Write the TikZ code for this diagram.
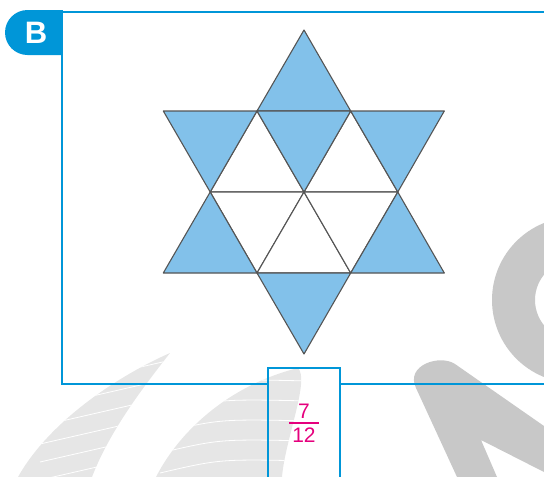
\documentclass[tikz,border=0pt]{standalone}
\usepackage{fontspec}
\setmainfont{Liberation Sans}
\definecolor{frameblue}{HTML}{0096D8}
\definecolor{starfill}{HTML}{82C1EA}
\definecolor{starline}{HTML}{555555}
\definecolor{wmdark}{HTML}{C8C8C8}
\definecolor{wmlight}{HTML}{E6E6E6}
\definecolor{fracmag}{HTML}{E5007D}
\tikzset{
  frameline/.style={draw=frameblue, line width=2.8pt},
  filltri/.style={fill=starfill, draw=starline, line width=1.1pt, line join=round},
  whitetri/.style={fill=white, draw=starline, line width=1.1pt, line join=round},
  wmark/.style={fill=wmdark, draw=none},
  leaf/.style={fill=wmlight, draw=none},
  stripe/.style={draw=white, line width=0.8pt},
  fracdigit/.style={text=fracmag, font=\fontsize{21}{24}\selectfont, inner sep=0pt}
}
\begin{document}
\begin{tikzpicture}[x=1pt,y=-1pt]
\useasboundingbox (0,0) rectangle (544,477);
% watermark shapes
\begin{scope}
\clip (0,0) rectangle (544,477);
\path[leaf] (170,353) .. controls (120,375) and (50,420) .. (18,477) -- (92,477) .. controls (110,430) and (145,385) .. (170,353) -- cycle;
\begin{scope}
\clip (170,353) .. controls (120,375) and (50,420) .. (18,477) -- (92,477) .. controls (110,430) and (145,385) .. (170,353) -- cycle;
\foreach \yy in {360,378,396,414,432,450,468}
  \draw[stripe] (40,\yy+30) -- (180,\yy-2);
\end{scope}
\path[leaf] (298,368) .. controls (230,385) and (180,430) .. (156,477) -- (282,477) .. controls (285,440) and (310,380) .. (298,368) -- cycle;
\begin{scope}
\clip (298,368) .. controls (230,385) and (180,430) .. (156,477) -- (282,477) .. controls (285,440) and (310,380) .. (298,368) -- cycle;
\foreach \yy in {385,405,425,445,465}
  \draw[stripe] (160,\yy+8) .. controls (220,\yy-6) .. (310,\yy-4);
\end{scope}
\path[wmark, even odd rule] (575,300) circle[radius=83] (575,300) circle[radius=40];
\path[wmark] (416,388) -- (457,477) -- (497,477) -- (481,440) -- (544,472) -- (544,426) -- (455,364)
  .. controls (440,354) and (405,365) .. (416,388) -- cycle;
\end{scope}
% frame
\draw[frameline] (62,12) -- (546,12);
\draw[frameline] (62,10) -- (62,384) -- (268,384);
\draw[frameline] (340,384) -- (546,384);
\draw[frameline] (268,479) -- (268,368) -- (340,368) -- (340,479);
% tab B
\path[fill=frameblue] (62,10) -- (27.5,10) arc[start angle=270, end angle=90, radius=22.5] -- (62,55) -- cycle;
\node[text=white, font=\bfseries\fontsize{31}{34}\selectfont, inner sep=0pt] (tabB) at (36,33) {B};
% star lattice
\coordinate (T) at (304,30);
\coordinate (a1) at (163.3,111); \coordinate (a2) at (257,111); \coordinate (a3) at (350.7,111); \coordinate (a4) at (444.3,111);
\coordinate (b1) at (210.2,192); \coordinate (b2) at (304,192); \coordinate (b3) at (397.8,192);
\coordinate (c1) at (163.3,273); \coordinate (c2) at (257,273); \coordinate (c3) at (350.7,273); \coordinate (c4) at (444.3,273);
\coordinate (Bt) at (304,354);
\path[whitetri] (a2) -- (b1) -- (b2) -- cycle;
\path[whitetri] (a3) -- (b2) -- (b3) -- cycle;
\path[whitetri] (b1) -- (b2) -- (c2) -- cycle;
\path[whitetri] (b2) -- (c2) -- (c3) -- cycle;
\path[whitetri] (b2) -- (b3) -- (c3) -- cycle;
\path[filltri] (T) -- (a2) -- (a3) -- cycle;
\path[filltri] (a2) -- (a3) -- (b2) -- cycle;
\path[filltri] (a1) -- (a2) -- (b1) -- cycle;
\path[filltri] (a3) -- (a4) -- (b3) -- cycle;
\path[filltri] (b1) -- (c1) -- (c2) -- cycle;
\path[filltri] (b3) -- (c3) -- (c4) -- cycle;
\path[filltri] (c2) -- (c3) -- (Bt) -- cycle;
% fraction
\node[fracdigit] (num) at (304,411.5) {7};
\node[fracdigit] (den) at (304,435.5) {12};
\coordinate (barL) at (289,423);
\coordinate (barR) at (319,423);
\draw[draw=fracmag, line width=1.3pt] (barL) -- (barR);
\end{tikzpicture}
\end{document}
